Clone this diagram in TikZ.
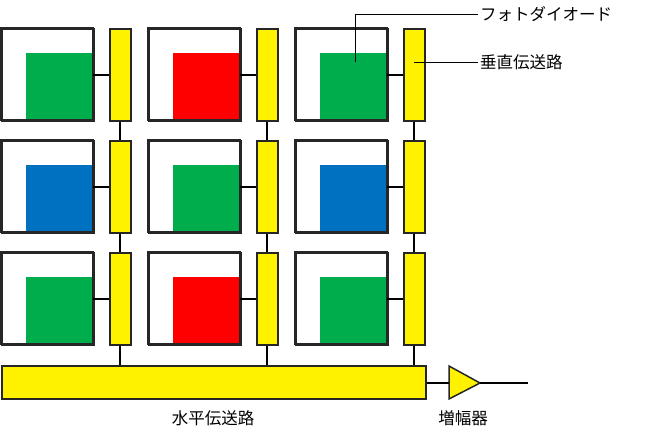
\documentclass[tikz,border=0pt]{standalone}
\usepackage{fontspec}
\newfontfamily\cjk{Noto Sans CJK JP}
\begin{document}
\begin{tikzpicture}[x=1pt,y=-1pt,
  cellbox/.style={draw=black!85,line width=1.5pt,fill=white},
  bar/.style={draw=black!85,line width=1.5pt,fill=yellow},
  wire/.style={line width=1.6pt},
  lbl/.style={font=\cjk\fontsize{16.5}{18}\selectfont,inner sep=0pt}]
\useasboundingbox (0,0) rectangle (650,442);
\definecolor{pg}{RGB}{0,173,76}
\definecolor{pr}{RGB}{255,0,0}
\definecolor{pb}{RGB}{0,112,192}
\def\cols{{"pg","pr","pg","pb","pg","pb","pg","pr","pg"}}
\foreach \r/\y in {0/28,1/140,2/252}{
 \foreach \c/\x in {0/1,1/148,2/295}{
  \pgfmathsetmacro{\idx}{int(\r*3+\c)}
  \pgfmathparse{\cols[\idx]}\edef\cc{\pgfmathresult}
  \node[cellbox,minimum size=92pt,anchor=north west,inner sep=0pt] (o\r\c) at (\x,\y) {};
  \fill[\cc] (\x+25,\y+25) rectangle (\x+92,\y+92);
  \draw[cellbox,fill=none] (\x,\y) rectangle (\x+92,\y+92);
  \node[bar,minimum width=21pt,minimum height=92pt,anchor=north west,inner sep=0pt] (v\r\c) at (\x+108,\y) {};
  \draw[wire] (\x+92,\y+47) -- (v\r\c.west |- 0,\y+47);
 }}
\node[bar,minimum width=424pt,minimum height=33pt,anchor=north west,inner sep=0pt] (h) at (1,365) {};
\foreach \c in {0,1,2}{
  \draw[wire] (v0\c.south) -- (v1\c.north);
  \draw[wire] (v1\c.south) -- (v2\c.north);
  \draw[wire] (v2\c.south) -- (v2\c.south |- h.north);
}
\coordinate (a1) at (449,366);\coordinate (a2) at (449,399);\coordinate (a3) at (480,383);
\draw[bar] (a1) -- (a3) -- (a2) -- cycle;
\coordinate (out) at (528,383);
\draw[wire] (h.east |- a3) -- (449,383);
\draw[wire] (a3) -- (out);
\node[lbl] (t1) at (213,418) {水平伝送路};
\node[lbl] (t2) at (463,418) {増幅器};
\node[lbl,anchor=west] (t3) at (480,14) {フォトダイオード};
\node[lbl,anchor=west] (t4) at (480,62) {垂直伝送路};
\coordinate (p1) at (355,62);\coordinate (p2) at (414,62);
\draw[line width=0.8pt] (p1) -- (355,14) -- ([xshift=-2pt]t3.west);
\draw[line width=0.8pt] (p2) -- ([xshift=-2pt]t4.west);
\end{tikzpicture}
\end{document}
